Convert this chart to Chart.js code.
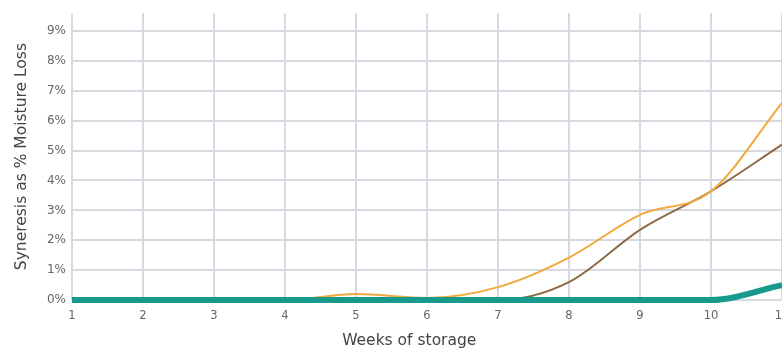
<!DOCTYPE html>
<html>
<head>
<meta charset="utf-8">
<script src="https://cdn.jsdelivr.net/npm/chart.js@4"></script>
<style>
    html, body { margin: 0; padding: 0; background: #fff; overflow: hidden; }
    #wrap { width: 800px; height: 353px; }
</style>
</head>
<body>
<div id="wrap"><canvas id="syneresisChart"></canvas></div>
<script>
const weeks = [1, 2, 3, 4, 5, 6, 7, 8, 9, 10, 11];
const yTicks = [0, 1, 2, 3, 4, 5, 6, 7, 8, 9];
const orangeValues = [0, 0, 0, 0, 0.2, 0.07, 0.43, 1.42, 2.85, 3.64, 6.6];
const brownValues = [0, 0, 0, 0, 0, 0, 0, 0.6, 2.35, 3.64, 5.2];
const tealValues = [0, 0, 0, 0, 0, 0, 0, 0, 0, 0, 0.5];

const FONT = "'DejaVu Sans', sans-serif";

function toPoints(values) {
    return weeks.map((w, i) => ({ x: w, y: values[i] }));
}

// x title sits left of the plot centre in the original, so draw it by hand
const xTitlePlugin = {
    id: "xTitle",
    afterDraw(chart) {
        const ctx = chart.ctx;
        const xs = chart.scales.x;
        ctx.save();
        ctx.font = "15.5px " + FONT;
        ctx.fillStyle = "#444";
        ctx.textAlign = "center";
        ctx.textBaseline = "middle";
        ctx.fillText("Weeks of storage", xs.getPixelForValue(5.75), 341);
        ctx.restore();
    }
};

const ctx = document.getElementById("syneresisChart").getContext("2d");

new Chart(ctx, {
    type: "line",
    data: {
        datasets: [
            {
                label: "Teal",
                data: toPoints(tealValues),
                borderColor: "#17998b",
                borderWidth: 6,
                pointRadius: 0,
                clip: false,
                cubicInterpolationMode: "monotone",
            },
            {
                label: "Orange",
                data: toPoints(orangeValues),
                borderColor: "#f0a93b",
                borderWidth: 2,
                pointRadius: 0,
                clip: false,
                cubicInterpolationMode: "monotone",
            },
            {
                label: "Brown",
                data: toPoints(brownValues),
                borderColor: "#8c6a45",
                borderWidth: 2,
                pointRadius: 0,
                clip: false,
                cubicInterpolationMode: "monotone",
            },
        ],
    },
    options: {
        responsive: true,
        maintainAspectRatio: false,
        animation: false,
        layout: {
            padding: { top: 10, right: 18, bottom: 0, left: 0 },
        },
        plugins: {
            legend: { display: false },
            tooltip: { enabled: false },
        },
        scales: {
            x: {
                type: "linear",
                min: weeks[0],
                max: weeks[weeks.length - 1],
                afterFit: scale => { scale.height = 53; },
                afterBuildTicks: axis => {
                    axis.ticks = weeks.map(w => ({ value: w }));
                },
                grid: {
                    color: "#d8d8e0",
                    lineWidth: 2,
                    drawTicks: false,
                },
                border: { display: false },
                ticks: {
                    padding: 9,
                    color: "#666",
                    font: { family: FONT, size: 11.5 },
                },
            },
            y: {
                min: 0,
                max: 9.6,
                afterFit: scale => { scale.width = 72; },
                afterBuildTicks: axis => {
                    axis.ticks = yTicks.map(v => ({ value: v }));
                },
                grid: {
                    color: "#d8d8e0",
                    lineWidth: 2,
                    drawTicks: false,
                },
                border: { display: false },
                ticks: {
                    padding: 6,
                    color: "#666",
                    font: { family: FONT, size: 12 },
                    callback: v => v + "%",
                },
                title: {
                    display: true,
                    text: "Syneresis as % Moisture Loss",
                    color: "#444",
                    font: { family: FONT, size: 15.5 },
                    padding: { top: 13, bottom: 0 },
                },
            },
        },
    },
    plugins: [xTitlePlugin],
});
</script>
</body>
</html>
